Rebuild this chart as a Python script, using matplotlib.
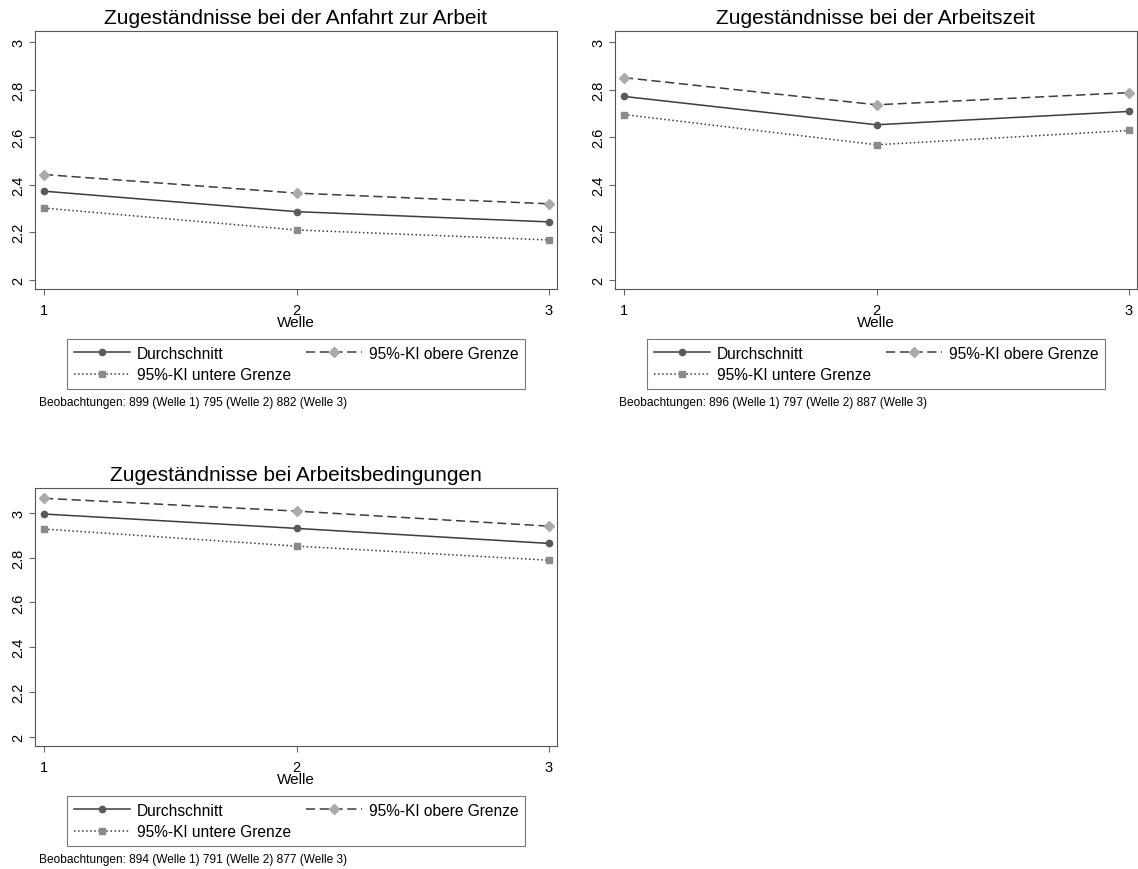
import matplotlib.pyplot as plt

plt.rcParams["font.family"] = ["Liberation Sans", "DejaVu Sans"]

wellen = [1, 2, 3]

titles = [
    "Zugeständnisse bei der Anfahrt zur Arbeit",
    "Zugeständnisse bei der Arbeitszeit",
    "Zugeständnisse bei Arbeitsbedingungen",
]
mean_vals = [
    [2.373, 2.287, 2.244],
    [2.771, 2.652, 2.708],
    [2.994, 2.930, 2.863],
]
upper_vals = [
    [2.443, 2.365, 2.320],
    [2.850, 2.736, 2.787],
    [3.064, 3.007, 2.940],
]
lower_vals = [
    [2.302, 2.210, 2.168],
    [2.695, 2.568, 2.628],
    [2.927, 2.851, 2.788],
]
notes = [
    "Beobachtungen: 899 (Welle 1) 795 (Welle 2) 882 (Welle 3)",
    "Beobachtungen: 896 (Welle 1) 797 (Welle 2) 887 (Welle 3)",
    "Beobachtungen: 894 (Welle 1) 791 (Welle 2) 877 (Welle 3)",
]
ylims = [(1.962, 3.046), (1.962, 3.046), (1.96, 3.11)]

W, H = 1138, 870
# axes boxes in pixels: left, top, right, bottom
boxes = [(35, 32, 557, 290), (615, 32, 1137, 290), (35, 489, 557, 747)]

fig = plt.figure(figsize=(W / 100, H / 100), dpi=100)

for i in range(3):
    l, t, r, b = boxes[i]
    h = b - t
    ax = fig.add_axes([l / W, 1 - b / H, (r - l) / W, h / H])

    ax.plot(wellen, mean_vals[i], "-", color="#3c3c3c", lw=1.1,
            marker="o", ms=4.5, mfc="#5a5a5a", mec="#5a5a5a", label="Durchschnitt")
    ax.plot(wellen, lower_vals[i], ":", color="#3c3c3c", lw=1.1,
            marker="s", ms=5, mfc="#8a8a8a", mec="#8a8a8a", label="95%-KI untere Grenze")
    ax.plot(wellen, upper_vals[i], "--", color="#3c3c3c", lw=1.1, dashes=(6, 3),
            marker="D", ms=5, mfc="#aaaaaa", mec="#aaaaaa", label="95%-KI obere Grenze")

    ax.set_xlim(0.964, 3.032)
    ax.set_ylim(*ylims[i])
    ax.set_xticks(wellen)
    ax.set_yticks([2, 2.2, 2.4, 2.6, 2.8, 3])
    ax.set_yticklabels(["2", "2.2", "2.4", "2.6", "2.8", "3"], rotation=90, va="center")
    ax.tick_params(labelsize=10.5, length=4, color="#666666", width=0.8)
    ax.tick_params(axis="x", pad=6)
    ax.tick_params(axis="y", pad=3)
    for s in ax.spines.values():
        s.set_color("#555555")
        s.set_linewidth(0.8)
    ax.set_xlabel("Welle", fontsize=11)
    ax.xaxis.label.set_va("center")
    ax.xaxis.set_label_coords(0.5, -33 / h)
    ax.set_title(titles[i], fontsize=15, pad=6)

    leg = ax.legend(
        loc="upper left",
        bbox_to_anchor=((l + 32) / W, 1 - (b + 50) / H, 458 / W, 0),
        bbox_transform=fig.transFigure,
        mode="expand",
        ncol=2,
        fontsize=11.2,
        handlelength=3.6,
        handletextpad=0.45,
        frameon=True,
        fancybox=False,
        borderaxespad=0,
        labelspacing=0.42,
        borderpad=0.42,
    )
    leg.get_frame().set_edgecolor("#555555")
    leg.get_frame().set_linewidth(0.8)

    fig.text((l + 4) / W, 1 - (b + 113) / H, notes[i], fontsize=8.6, va="center")

fig.savefig("out.png", dpi=100)
